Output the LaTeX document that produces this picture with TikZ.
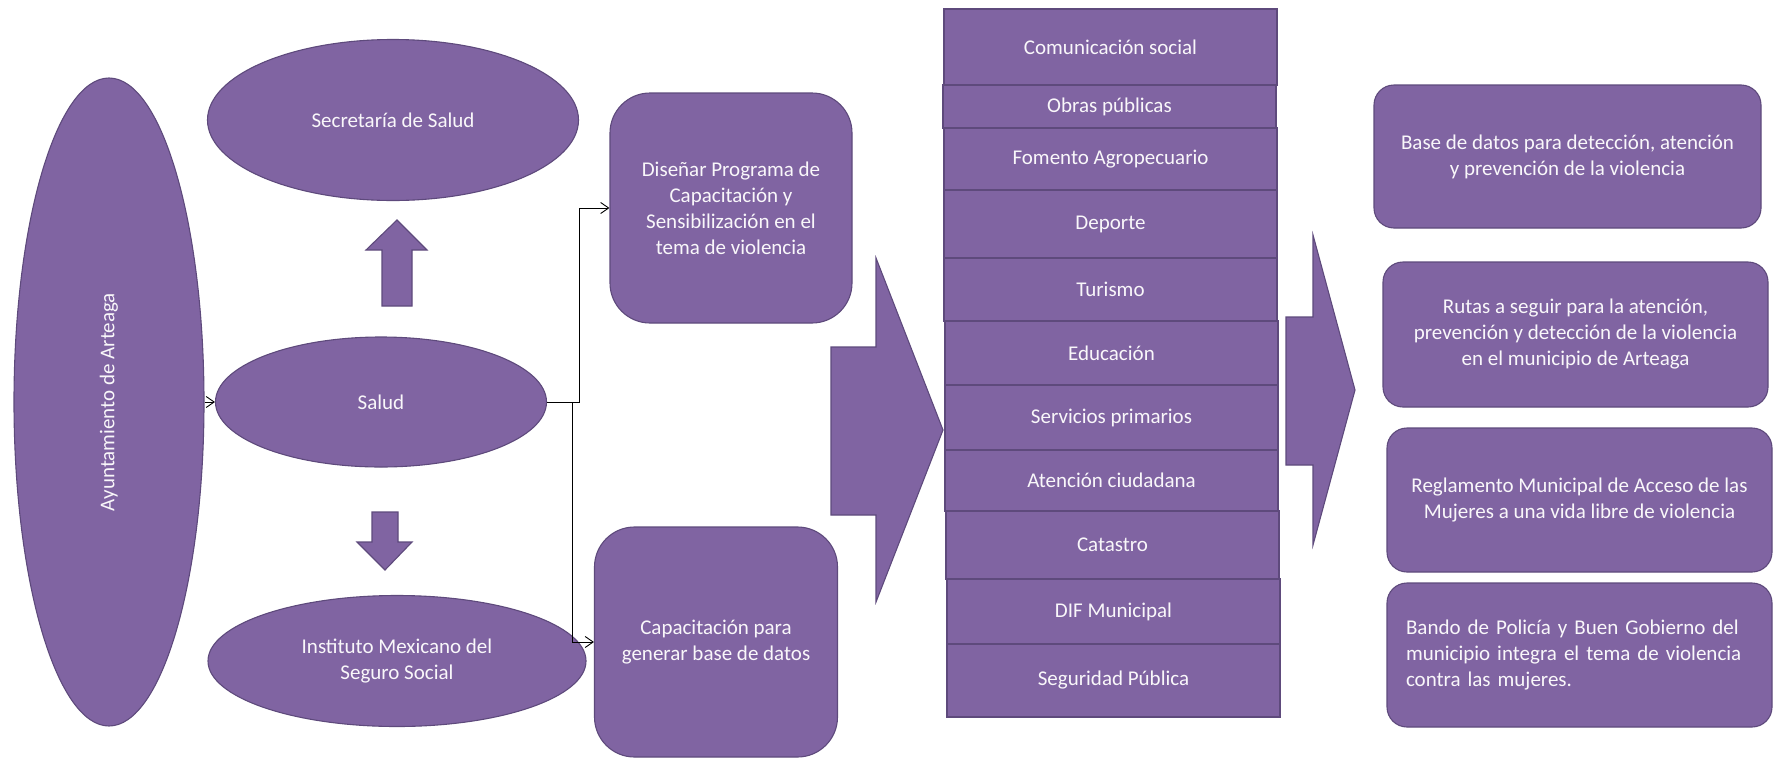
\documentclass[tikz,border=0pt]{standalone}
\usepackage{fontspec}
\setmainfont{Carlito}
\usepackage{tikz}
\usetikzlibrary{arrows.meta}
\usetikzlibrary{shapes.geometric}
\definecolor{violeta}{HTML}{8064A2}
\definecolor{violetaosc}{HTML}{5E4A7C}
\colorlet{textoclaro}{white!95!violeta}
\tikzstyle{letra}=[font=\fontsize{21}{26}\selectfont,text=textoclaro]
\tikzstyle{ovalo}=[ellipse,draw=violetaosc,fill=violeta,line width=1.1pt,inner sep=0pt,align=center,letra]
\tikzstyle{caja}=[rectangle,rounded corners=40pt,draw=violetaosc,fill=violeta,line width=1.1pt,inner sep=0pt,align=center,letra]
\tikzstyle{cajita}=[caja,rounded corners=20pt]
\tikzstyle{celda}=[rectangle,draw=violetaosc,fill=violeta,line width=1.6pt,inner sep=0pt,minimum width=333pt,letra]
\tikzstyle{flecha}=[draw=violetaosc,fill=violeta,line width=1.1pt,line join=miter]
\tikzstyle{con}=[line width=.9pt,-{Straight Barb[length=8pt,width=11pt]}]

\begin{document}
\begin{tikzpicture}[x=1pt,y=-1pt]
	\useasboundingbox (0,0) rectangle (1780,758);
	% columna izquierda
	\node[ovalo,rotate=90,minimum width=648pt,minimum height=190pt] (ayto) at (109,402) {Ayuntamiento de Arteaga};
	\node[ovalo,minimum width=371pt,minimum height=161pt] (secsalud) at (393,120) {Secretaría de Salud};
	\node[ovalo,minimum width=331pt,minimum height=130pt] (salud) at (381,402) {Salud};
	\node[ovalo,minimum width=378pt,minimum height=131pt] (imss) at (397,661) {Instituto Mexicano del\\Seguro Social};
	\draw[flecha] (382,306) -- (382,250) -- (366,250) -- (397,220) -- (427,250) -- (412,250) -- (412,306) -- cycle;
	\draw[flecha] (372,512) -- (398,512) -- (398,542) -- (412,542) -- (385,570) -- (357,542) -- (372,542) -- cycle;
	% programas
	\node[caja,minimum width=242pt,minimum height=230pt] (disenar) at (731,208) {Diseñar Programa de\\Capacitación y\\Sensibilización en el\\tema de violencia};
	\node[caja,minimum width=243pt,minimum height=230pt] (capac) at (716,642) {Capacitación para\\generar base de datos};
	\draw[con] (ayto) -- (salud);
	\draw[con] (salud.east) -- ++(32,0) |- (disenar.west);
	\draw[con] (salud.east) -- ++(25,0) |- (capac.west);
	\draw[flecha] (831,347) -- (876,347) -- (876,258) -- (943,430) -- (876,602) -- (876,515) -- (831,515) -- cycle;
	% areas del municipio
	\foreach \nom/\dx/\yc/\alto/\txt in {
		com/0/47/76/Comunicación social,
		obras/-1/106.5/43/Obras públicas,
		fomento/0/159/62/Fomento Agropecuario,
		deporte/0/224/68/Deporte,
		turismo/0/289.5/63/Turismo,
		educ/1/353/64/Educación,
		serv/1/417.5/65/Servicios primarios,
		aten/1/480.5/61/Atención ciudadana,
		catastro/2/545/68/Catastro,
		dif/3/611.5/65/DIF Municipal,
		seg/3/680.5/73/Seguridad Pública}
		\node[celda,minimum height=\alto pt] (\nom) at (1110.5+\dx,\yc) {\txt};
	\draw[flecha] (1286,317) -- (1313,317) -- (1313,235) -- (1355,390) -- (1313,545) -- (1313,465) -- (1286,465) -- cycle;
	% resultados
	\node[cajita,minimum width=387pt,minimum height=143pt] (basedatos) at (1567.5,156.5) {Base de datos para detección, atención\\y prevención de la violencia};
	\node[cajita,minimum width=385pt,minimum height=145pt] (rutas) at (1575.5,334.5) {Rutas a seguir para la atención,\\prevención y detección de la violencia\\en el municipio de Arteaga};
	\node[cajita,minimum width=385pt,minimum height=144pt] (reglamento) at (1579.5,500) {Reglamento Municipal de Acceso de las\\Mujeres a una vida libre de violencia};
	\node[cajita,minimum width=385pt,minimum height=144pt,text width=347pt,align=left] (bando) at (1579.5,655) {Bando de Policía y Buen Gobierno del\\municipio integra el tema de violencia\\contra las mujeres.};
\end{tikzpicture}
\end{document}
